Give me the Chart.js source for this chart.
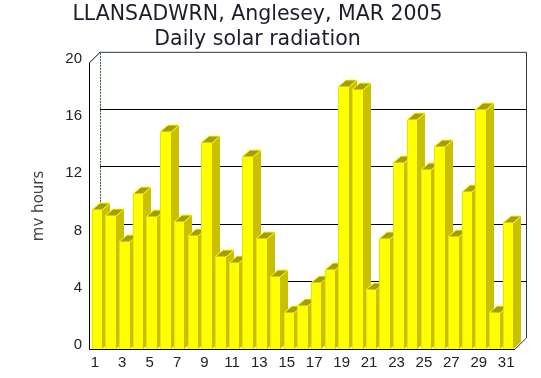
<!DOCTYPE html>
<html lang="en">
<head>
    <meta charset="UTF-8">
    <title>Daily solar radiation</title>
    <script src="https://cdn.jsdelivr.net/npm/chart.js"></script>
    <style>
        body { margin: 0; background: #fff; }
        canvas { display: block; }
    </style>
</head>
<body>
    <canvas id="solarChart" width="541" height="378"></canvas>
    <script>
        const days = ['1','2','3','4','5','6','7','8','9','10','11','12','13','14','15','16',
                      '17','18','19','20','21','22','23','24','25','26','27','28','29','30','31'];
        const radiation = [9.7, 9.3, 7.5, 10.8, 9.2, 15.2, 8.9, 7.9, 14.4, 6.4, 6.0, 13.4, 7.7, 5.0, 2.5, 3.0,
                           4.6, 5.5, 18.3, 18.1, 4.1, 7.7, 13.0, 16.0, 12.5, 14.1, 7.8, 11.0, 16.7, 2.5, 8.8];
        const yTicks = [0, 4, 8, 12, 16, 20];

        const WALL = 11;      // depth of the back wall
        const BAR_DX = 8;     // depth of each bar
        const BAR_DY = 7;

        // back wall, gridlines and left axis, drawn behind the bars
        const frame3d = {
            id: 'frame3d',
            beforeDatasetsDraw(chart) {
                const ctx = chart.ctx;
                const area = chart.chartArea;
                const y = chart.scales.y;
                const left = area.left - 1;
                ctx.save();
                ctx.lineWidth = 1;
                ctx.strokeStyle = '#000';
                yTicks.forEach(v => {
                    if (v === 0 || v === 20) return;
                    const py = Math.round(y.getPixelForValue(v) - WALL) + 0.5;
                    ctx.beginPath();
                    ctx.moveTo(left + WALL, py);
                    ctx.lineTo(area.right + WALL, py);
                    ctx.stroke();
                });
                // back wall outline
                ctx.strokeStyle = '#333344';
                ctx.beginPath();
                ctx.moveTo(left + WALL + 0.5, area.top - WALL + 0.5);
                ctx.lineTo(area.right + WALL + 0.5, area.top - WALL + 0.5);
                ctx.lineTo(area.right + WALL + 0.5, area.bottom - WALL);
                ctx.lineTo(area.right, area.bottom);
                ctx.stroke();
                // left edge of the back wall is dotted
                ctx.strokeStyle = '#2a6a2a';
                ctx.setLineDash([2, 1]);
                ctx.beginPath();
                ctx.moveTo(left + WALL + 0.5, area.top - WALL + 1);
                ctx.lineTo(left + WALL + 0.5, area.bottom - WALL);
                ctx.stroke();
                ctx.setLineDash([]);
                // left wall top edge and front axis
                ctx.strokeStyle = '#000';
                ctx.beginPath();
                ctx.moveTo(left + 0.5, area.top);
                ctx.lineTo(left + WALL + 0.5, area.top - WALL);
                ctx.moveTo(left + 0.5, area.top);
                ctx.lineTo(left + 0.5, area.bottom + 0.5);
                ctx.lineTo(area.right, area.bottom + 0.5);
                ctx.stroke();
                ctx.restore();
            },
            afterDatasetsDraw(chart) {
                const ctx = chart.ctx;
                const meta = chart.getDatasetMeta(0);
                ctx.save();
                meta.data.forEach(bar => {
                    const l = Math.round(bar.x - bar.width / 2);
                    const r = Math.round(bar.x + bar.width / 2);
                    const t = Math.round(bar.y);
                    const b = Math.round(bar.base);
                    // side face
                    ctx.fillStyle = '#c8c000';
                    ctx.beginPath();
                    ctx.moveTo(r, t);
                    ctx.lineTo(r + BAR_DX, t - BAR_DY);
                    ctx.lineTo(r + BAR_DX, b - BAR_DY);
                    ctx.lineTo(r, b);
                    ctx.closePath();
                    ctx.fill();
                    // top face
                    ctx.fillStyle = '#a49c00';
                    ctx.strokeStyle = '#ffff00';
                    ctx.lineWidth = 1;
                    ctx.beginPath();
                    ctx.moveTo(l, t);
                    ctx.lineTo(l + BAR_DX, t - BAR_DY);
                    ctx.lineTo(r + BAR_DX, t - BAR_DY);
                    ctx.lineTo(r, t);
                    ctx.closePath();
                    ctx.fill();
                    ctx.stroke();
                    // front face
                    ctx.fillStyle = '#ffff00';
                    ctx.fillRect(l, t, r - l, b - t);
                    ctx.fillStyle = '#e6e600';
                    ctx.fillRect(l, t, 1, b - t);
                });
                ctx.restore();
            }
        };

        new Chart(document.getElementById('solarChart'), {
            type: 'bar',
            data: {
                labels: days,
                datasets: [{
                    data: radiation,
                    backgroundColor: '#ffff00',
                    borderWidth: 0,
                    barPercentage: 0.77,
                    categoryPercentage: 1.0
                }]
            },
            options: {
                responsive: false,
                animation: false,
                layout: { padding: { left: 0, right: 26, top: 0, bottom: 0 } },
                plugins: {
                    legend: { display: false },
                    tooltip: { enabled: false },
                    title: {
                        display: true,
                        text: ['LLANSADWRN, Anglesey, MAR 2005', 'Daily solar radiation'],
                        color: '#1c1c2c',
                        font: { family: 'DejaVu Sans', size: 20.5, weight: 'normal', lineHeight: 1.24 },
                        padding: { top: 2, bottom: 10 }
                    }
                },
                scales: {
                    x: {
                        grid: { display: false, drawTicks: false },
                        border: { display: false },
                        ticks: {
                            autoSkip: false,
                            maxRotation: 0,
                            padding: 5,
                            labelOffset: -2,
                            color: '#222',
                            font: { family: 'Liberation Sans', size: 15 },
                            callback: (val, i) => (i % 2 === 0 ? days[i] : '')
                        },
                        afterFit: scale => { scale.height = 29; }
                    },
                    y: {
                        min: 0,
                        max: 20,
                        grid: { display: false, drawTicks: false },
                        border: { display: false },
                        afterBuildTicks: scale => {
                            scale.ticks = yTicks.map(v => ({ value: v }));
                        },
                        ticks: {
                            padding: 8,
                            labelOffset: -4,
                            color: '#222',
                            font: { family: 'Liberation Sans', size: 15 }
                        },
                        title: {
                            display: true,
                            text: 'mv hours',
                            color: '#444',
                            padding: { top: 30, bottom: 0 },
                            font: { family: 'DejaVu Sans', size: 15, weight: 'normal' }
                        },
                        afterFit: scale => { scale.width = 90; }
                    }
                }
            },
            plugins: [frame3d]
        });
    </script>
</body>
</html>
